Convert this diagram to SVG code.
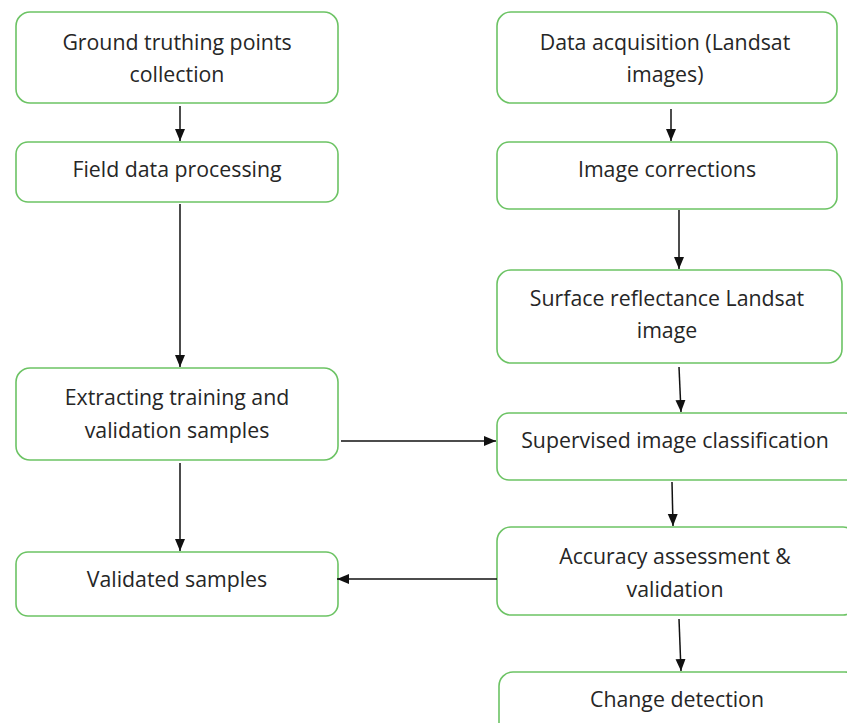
<svg xmlns="http://www.w3.org/2000/svg" width="847" height="723" viewBox="0 0 847 723">
  <style>
    .box { fill: #ffffff; stroke: #6cc364; stroke-width: 1.6; }
    .lbl { font-family: "Open Sans", "Noto Sans", sans-serif; font-size: 21.3px; fill: #262626; text-anchor: middle; }
    .edge { stroke: #111111; stroke-width: 1.5; fill: none; marker-end: url(#arrow); }
  </style>
  <defs>
    <marker id="arrow" markerUnits="userSpaceOnUse" markerWidth="12" markerHeight="12" viewBox="0 0 12 10" refX="12" refY="5" orient="auto">
      <path d="M0,0 L12,5 L0,10 Z" fill="#111111"/>
    </marker>
  </defs>
  <rect width="847" height="723" fill="#ffffff"/>

  <!-- left column -->
  <g id="ground-truthing">
    <rect class="box" x="16" y="12" width="322" height="91" rx="14"/>
    <text class="lbl" x="177" y="50">Ground truthing points</text>
    <text class="lbl" x="177" y="82">collection</text>
  </g>
  <g id="field-data">
    <rect class="box" x="16" y="142" width="322" height="60" rx="12"/>
    <text class="lbl" x="177" y="177">Field data processing</text>
  </g>
  <g id="extracting-samples">
    <rect class="box" x="16" y="368" width="322" height="92" rx="14"/>
    <text class="lbl" x="177" y="405">Extracting training and</text>
    <text class="lbl" x="177" y="438">validation samples</text>
  </g>
  <g id="validated-samples">
    <rect class="box" x="16" y="552" width="322" height="64" rx="12"/>
    <text class="lbl" x="177" y="587">Validated samples</text>
  </g>

  <!-- right column -->
  <g id="data-acquisition">
    <rect class="box" x="497" y="12" width="340" height="91" rx="14"/>
    <text class="lbl" x="665" y="50">Data acquisition (Landsat</text>
    <text class="lbl" x="665" y="82">images)</text>
  </g>
  <g id="image-corrections">
    <rect class="box" x="497" y="142" width="340" height="67" rx="12"/>
    <text class="lbl" x="667" y="177">Image corrections</text>
  </g>
  <g id="surface-reflectance">
    <rect class="box" x="497" y="270" width="345" height="93" rx="14"/>
    <text class="lbl" x="667" y="306">Surface reflectance Landsat</text>
    <text class="lbl" x="667" y="338">image</text>
  </g>
  <g id="supervised-classification">
    <rect class="box" x="497" y="413" width="360" height="67" rx="12"/>
    <text class="lbl" x="675" y="448">Supervised image classification</text>
  </g>
  <g id="accuracy-assessment">
    <rect class="box" x="497" y="527" width="360" height="88" rx="14"/>
    <text class="lbl" x="675" y="564">Accuracy assessment &amp;</text>
    <text class="lbl" x="675" y="597">validation</text>
  </g>
  <g id="change-detection">
    <rect class="box" x="499" y="672" width="360" height="80" rx="14"/>
    <text class="lbl" x="677" y="707">Change detection</text>
  </g>

  <!-- connectors -->
  <g id="connectors">
    <line class="edge" x1="180" y1="106" x2="180" y2="141"/>
    <line class="edge" x1="180" y1="204" x2="180" y2="367"/>
    <line class="edge" x1="180" y1="463" x2="180" y2="551"/>
    <line class="edge" x1="341" y1="441" x2="496" y2="441"/>
    <line class="edge" x1="497" y1="579" x2="337" y2="579"/>
    <line class="edge" x1="671" y1="109" x2="671" y2="141"/>
    <line class="edge" x1="679" y1="210" x2="679" y2="269"/>
    <line class="edge" x1="679" y1="367" x2="681" y2="412"/>
    <line class="edge" x1="672" y1="482" x2="673" y2="526"/>
    <line class="edge" x1="679" y1="619" x2="681" y2="671"/>
  </g>
</svg>
